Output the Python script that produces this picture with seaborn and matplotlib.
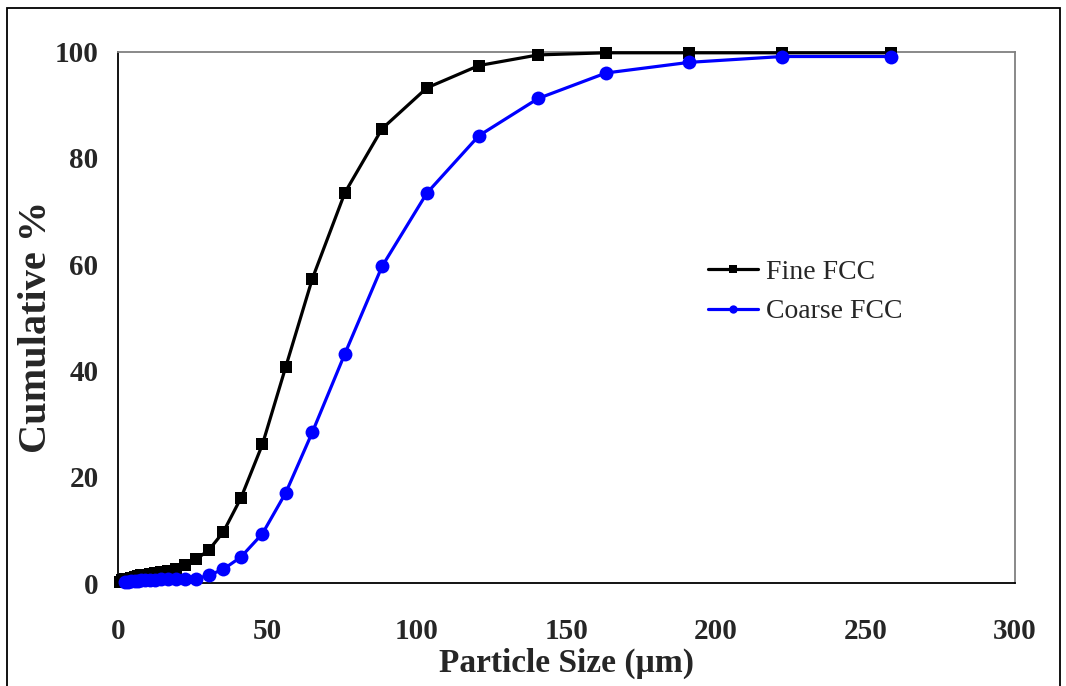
import matplotlib
matplotlib.use("Agg")
import matplotlib.pyplot as plt
import seaborn as sns
import pandas as pd
from matplotlib.patches import Rectangle

# Particle size (µm) and cumulative undersize (%) for the two catalyst powders
sizes = [0.5, 1.5, 2.5, 3.5, 4.5, 5.8, 6.7, 7.8, 9.1, 10.6, 12.3, 14.3, 16.6, 19.3,
         22.4, 26.1, 30.5, 35.2, 41.1, 48.3, 56.1, 65.0, 75.9, 88.3, 103.3, 120.7,
         140.5, 163.2, 191.0, 222.1, 258.5]
fine_cum = [0.3, 0.5, 0.7, 0.85, 1.0, 1.2, 1.3, 1.45, 1.6, 1.75, 1.9, 2.05, 2.25, 2.6,
            3.4, 4.45, 6.3, 9.6, 16.0, 26.1, 40.7, 57.3, 73.5, 85.5, 93.2, 97.4,
            99.4, 99.8, 99.8, 99.8, 99.8]
coarse_sizes = sizes[2:]
coarse_cum = [0.2, 0.3, 0.35, 0.4, 0.45, 0.5, 0.55, 0.6, 0.65, 0.7, 0.75, 0.8,
              0.8, 0.8, 1.5, 2.6, 4.9, 9.3, 17.0, 28.4, 43.2, 59.6, 73.4, 84.2,
              91.2, 96.0, 98.0, 99.1, 99.1]
series_names = ["Fine FCC", "Coarse FCC"]
x_ticks = [0, 50, 100, 150, 200, 250, 300]
y_ticks = [0, 20, 40, 60, 80, 100]

df = pd.concat([
    pd.DataFrame({"size": sizes, "cum": fine_cum, "sample": series_names[0]}),
    pd.DataFrame({"size": coarse_sizes, "cum": coarse_cum, "sample": series_names[1]}),
], ignore_index=True)

sns.set_style("white")
plt.rcParams["font.family"] = ["Liberation Serif", "DejaVu Serif"]

fig = plt.figure(figsize=(10.66, 6.86), dpi=100)
ax = fig.add_axes([0.1107, 0.150, 0.8415, 0.7746])

styles = {
    "Fine FCC": dict(color="black", marker="s", markersize=9),
    "Coarse FCC": dict(color="#0000ff", marker="o", markersize=10),
}
for name in series_names:
    sub = df[df["sample"] == name]
    sns.lineplot(data=sub, x="size", y="cum", ax=ax, sort=False, estimator=None,
                 color=styles[name]["color"], marker=styles[name]["marker"],
                 markersize=styles[name]["markersize"], markeredgewidth=0,
                 linewidth=2.3, label=name, clip_on=False, zorder=3)

ax.set_xlim(0, 300)
ax.set_ylim(0, 100)
ax.set_xticks(x_ticks)
ax.set_yticks(y_ticks)
ax.tick_params(axis="x", direction="out", length=7, width=1.2, color="#808080",
               pad=18, labelsize=21)
ax.tick_params(axis="y", direction="out", length=7, width=1.2, color="black",
               pad=7, labelsize=21)
for lbl in ax.get_xticklabels() + ax.get_yticklabels():
    lbl.set_fontweight("bold")

for side in ("left", "bottom"):
    ax.spines[side].set_color("black")
    ax.spines[side].set_linewidth(1.3)
for side in ("top", "right"):
    ax.spines[side].set_color("#808080")
    ax.spines[side].set_linewidth(1.3)

ax.set_xlabel("Particle Size (µm)", fontsize=24, fontweight="bold", labelpad=2)
ax.set_ylabel("Cumulative %", fontsize=29, fontweight="bold")
ax.yaxis.set_label_coords(-0.07, 0.483)

leg = ax.legend(loc="upper left", bbox_to_anchor=(0.645, 0.63), frameon=False,
                fontsize=20, markerscale=0.6, handlelength=1.8, handletextpad=0.3,
                labelspacing=0.5, borderaxespad=0)

# Outer chart border
fig.patches.append(Rectangle((7 / 1066, -0.05), (1060 - 7) / 1066, 1.05 - 8 / 686,
                             transform=fig.transFigure, fill=False,
                             edgecolor="black", linewidth=1.3))

fig.savefig("out.png", dpi=100)
